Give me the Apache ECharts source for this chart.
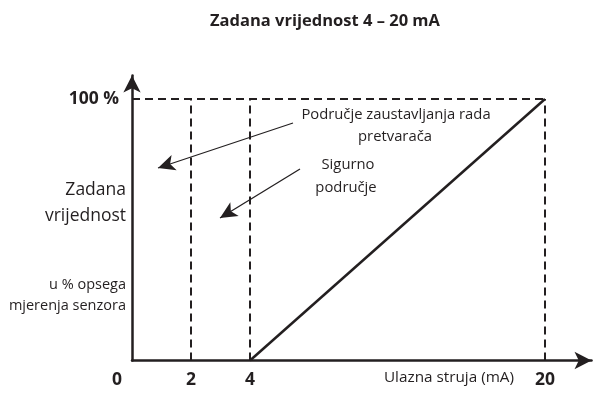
<!DOCTYPE html>
<html>
<head>
<meta charset="utf-8">
<script src="https://cdn.jsdelivr.net/npm/echarts@6/dist/echarts.min.js"></script>
<style>
  html, body { margin: 0; padding: 0; background: #fff; }
  #chart { width: 601px; height: 394px; }
</style>
</head>
<body>
<div id="chart"></div>
<script>
// Input current (mA) tick slots along the horizontal axis; blanks pad the 4–20 span
const xCategories = ['0', '2', '4', '', '', '', '', '20'];
// Setpoint characteristic: 4 mA -> 0 %, 20 mA -> 100 %
const lineX = ['4', '20'];
const lineY = [0, 100];
// Dashed guide lines (x in mA, y in %)
const guideVerticals = ['2', '4', '20'];
const fullScale = 100;

const INK = '#231f20';
const FONT = "'Open Sans', 'Noto Sans', sans-serif";

const chart = echarts.init(document.getElementById('chart'));

const catData = xCategories.map(function (c) {
  if (c === '0') {
    return { value: c, textStyle: { padding: [0, 30, 0, 0] } };
  }
  return c;
});

const guideLines = guideVerticals.map(function (x) {
  return [{ coord: [x, 0] }, { coord: [x, fullScale] }];
});
guideLines.push([{ coord: [xCategories[0], fullScale] }, { coord: ['20', fullScale] }]);

function label(x, y, text, size, align) {
  return {
    type: 'text', x: x, y: y,
    style: { text: text, fontFamily: FONT, fontSize: size, fill: INK, align: align, verticalAlign: 'middle' }
  };
}

const option = {
  animation: false,
  title: {
    text: 'Zadana vrijednost 4 – 20 mA',
    left: 320,
    top: 8,
    textAlign: 'center',
    textStyle: { fontFamily: FONT, fontWeight: 'bold', fontSize: 16.5, color: INK }
  },
  grid: [
    { left: 132, right: 56, top: 75.5, bottom: 33.5 },
    { left: 132, right: 9.5, top: 75.5, bottom: 33.5 }
  ],
  xAxis: [
    {
      type: 'category',
      gridIndex: 0,
      data: catData,
      boundaryGap: false,
      axisLine: { show: false },
      axisTick: { show: false },
      splitLine: { show: false },
      axisLabel: {
        interval: 0,
        margin: 11,
        fontFamily: FONT,
        fontWeight: 'bold',
        fontSize: 17.5,
        color: INK
      }
    },
    {
      type: 'value',
      gridIndex: 1,
      min: 0,
      max: 1,
      axisLine: {
        show: true,
        symbol: ['none', 'arrow'],
        symbolSize: [13, 17],
        lineStyle: { color: INK, width: 2.5 }
      },
      axisTick: { show: false },
      axisLabel: { show: false },
      splitLine: { show: false }
    }
  ],
  yAxis: [
    {
      type: 'value',
      gridIndex: 0,
      min: 0,
      max: 109,
      interval: 100,
      axisLine: {
        show: true,
        symbol: ['none', 'arrow'],
        symbolSize: [13, 17],
        lineStyle: { color: INK, width: 2.5 }
      },
      axisTick: { show: false },
      splitLine: { show: false },
      axisLabel: {
        margin: 13,
        fontFamily: FONT,
        fontWeight: 'bold',
        fontSize: 17.5,
        color: INK,
        formatter: function (v) { return v === fullScale ? '100 %' : ''; }
      }
    },
    { type: 'value', gridIndex: 1, show: false, min: 0, max: 109 }
  ],
  series: [
    {
      type: 'line',
      xAxisIndex: 0,
      yAxisIndex: 0,
      data: lineX.map(function (x, i) { return [x, lineY[i]]; }),
      symbol: 'none',
      lineStyle: { color: INK, width: 2.5 },
      z: 5,
      markLine: {
        silent: true,
        symbol: ['none', 'none'],
        label: { show: false },
        lineStyle: { color: INK, width: 2, type: [8, 5] },
        data: guideLines
      }
    },
    {
      // annotation pointers
      type: 'line',
      xAxisIndex: 0,
      yAxisIndex: 0,
      data: [],
      markLine: {
        silent: true,
        symbol: ['none', 'arrow'],
        symbolSize: [12, 17],
        label: { show: false },
        lineStyle: { color: INK, width: 1.3, type: 'solid' },
        data: [
          [{ x: 293, y: 123 }, { x: 158, y: 168 }],
          [{ x: 300, y: 169 }, { x: 220, y: 218 }]
        ]
      }
    }
  ],
  graphic: [
    label(126, 190, 'Zadana', 17.5, 'right'),
    label(126, 216, 'vrijednost', 17.5, 'right'),
    label(126, 285, 'u % opsega', 14.5, 'right'),
    label(126, 306, 'mjerenja senzora', 14.5, 'right'),
    label(396, 115, 'Područje zaustavljanja rada', 14.8, 'center'),
    label(395, 137, 'pretvarača', 14.8, 'center'),
    label(348, 165, 'Sigurno', 14.8, 'center'),
    label(346, 188, 'područje', 14.8, 'center'),
    label(449, 378, 'Ulazna struja (mA)', 15.3, 'center')
  ]
};

chart.setOption(option);
</script>
</body>
</html>
